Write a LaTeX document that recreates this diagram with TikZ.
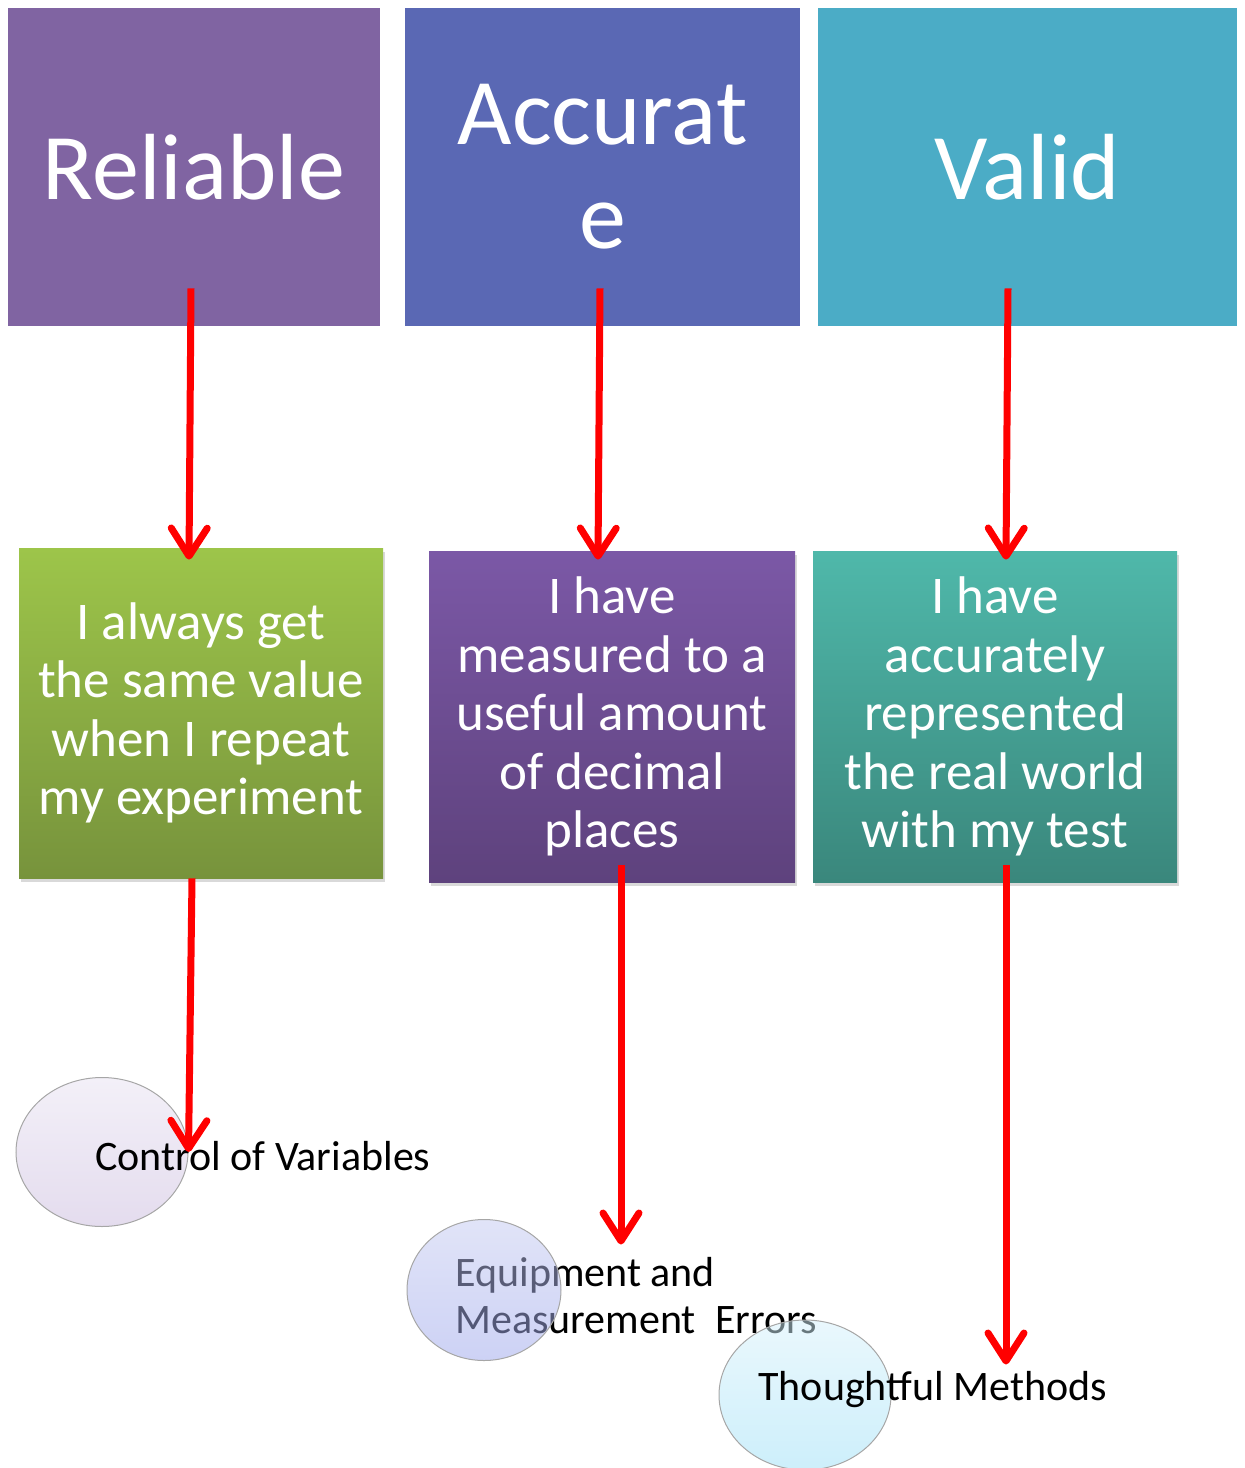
\documentclass[tikz,border=0pt]{standalone}
\usepackage{fontspec}
\setmainfont{Carlito}
\usetikzlibrary{positioning,shapes.geometric,arrows.meta,shadows}

\definecolor{relcol}{RGB}{128,100,162}
\definecolor{acccol}{RGB}{90,104,180}
\definecolor{valcol}{RGB}{75,172,198}
\definecolor{greentop}{RGB}{157,197,74}
\definecolor{greenbot}{RGB}{119,147,60}
\definecolor{purptop}{RGB}{123,88,166}
\definecolor{purpbot}{RGB}{94,66,125}
\definecolor{tealtop}{RGB}{79,184,170}
\definecolor{tealbot}{RGB}{58,135,124}

\begin{document}
\begin{tikzpicture}[x=0.5pt,y=-0.5pt,
  topbox/.style={text=white,align=center,inner sep=0pt,minimum height=159pt,font=\fontsize{47}{52}\selectfont},
  notebox/.style={text=white,align=center,inner sep=0pt,minimum width=182pt,minimum height=165pt,
    font=\fontsize{26.5}{29.25}\selectfont,drop shadow={shadow xshift=1pt,shadow yshift=-2pt,opacity=0.3}},
  bubble/.style={ellipse,draw=gray!70,line width=0.5pt,inner sep=0pt},
  lbl/.style={anchor=base west,inner sep=0pt,font=\fontsize{21}{23.5}\selectfont},
  arr/.style={draw=red,line width=3.5pt,-{Straight Barb[length=14pt,width=18pt,round]}}]
\useasboundingbox (0,0) rectangle (1244,1468);

% the three words
\node[topbox,fill=relcol,minimum width=186pt] (rel) at (194,167) {Reliable};
\node[topbox,fill=acccol,minimum width=197.5pt] (acc) [right of=rel,node distance=204.25pt] {Accurat\\e};
\node[topbox,fill=valcol,minimum width=209.5pt] (val) [right of=acc,node distance=212.5pt] {Valid};

% what they mean
\node[notebox,top color=greentop,bottom color=greenbot] (same) [below of=rel,node distance=273pt,xshift=3.5pt] {I always get\\the same value\\when I repeat\\my experiment};
\node[notebox,top color=purptop,bottom color=purpbot,minimum width=183pt,minimum height=165.5pt] (meas) [right of=same,node distance=205.5pt,yshift=-1.75pt] {I have\\measured to a\\useful amount\\of decimal\\places};
\node[notebox,top color=tealtop,bottom color=tealbot,minimum height=165.5pt] (world) [right of=meas,node distance=191.5pt] {I have\\accurately\\represented\\the real world\\with my test};

% bubbles
\node[bubble,top color={rgb,255:red,243;green,240;blue,248},bottom color={rgb,255:red,228;green,220;blue,238},minimum width=86pt,minimum height=74.5pt] (c1) at (102,1152) {};
\node[lbl] (ctrl) at (95,1170) {Control of Variables};
\node[lbl,align=left] (equip) at (455,1333) {Equipment and\\Measurement~~Errors};
\node[bubble,fill opacity=0.5,top color={rgb,255:red,195;green,201;blue,241},bottom color={rgb,255:red,155;green,165;blue,235},minimum width=77pt,minimum height=70.5pt] (c2) at (484,1290) {};
\node[bubble,fill opacity=0.5,top color={rgb,255:red,213;green,241;blue,251},bottom color={rgb,255:red,155;green,223;blue,247},minimum width=86pt,minimum height=75pt] (c3) at (805,1395) {};
\node[lbl] (thought) at (758,1400) {Thoughtful Methods};

\draw[arr] ([xshift=-1.5pt,yshift=19pt]rel.south) -- ([xshift=-6pt,yshift=-6pt]same.north);
\draw[arr] ([xshift=-1.25pt,yshift=19pt]acc.south) -- ([xshift=-7pt,yshift=-4.5pt]meas.north);
\draw[arr] ([xshift=-9.75pt,yshift=19pt]val.south) -- ([xshift=5.5pt,yshift=-4.5pt]world.north);

\draw[arr] ([xshift=-4.5pt]same.south) -- (c1.east);
\draw[arr] ([xshift=4.5pt,yshift=8.5pt]meas.south) -- ([xshift=68.5pt,yshift=-12.75pt]c2.north);
\draw[arr] ([xshift=5.5pt,yshift=8.5pt]world.south) -- ([xshift=100.5pt,yshift=-22.5pt]c3.north);
\end{tikzpicture}
\end{document}
